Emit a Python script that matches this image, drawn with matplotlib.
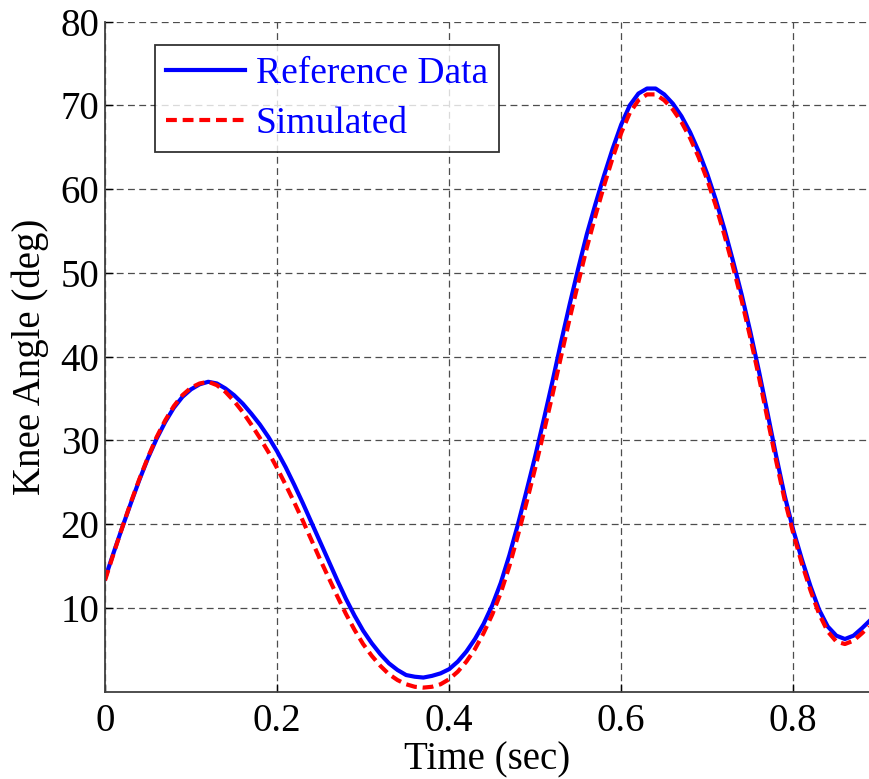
import matplotlib
matplotlib.use('Agg')
from matplotlib import pyplot as plt

# time axis (s)
time_sec = [0.00, 0.01, 0.02, 0.03, 0.04, 0.05, 0.06, 0.07, 0.08, 0.09,
            0.10, 0.11, 0.12, 0.13, 0.14, 0.15, 0.16, 0.17, 0.18, 0.19,
            0.20, 0.21, 0.22, 0.23, 0.24, 0.25, 0.26, 0.27, 0.28, 0.29,
            0.30, 0.31, 0.32, 0.33, 0.34, 0.35, 0.36, 0.37, 0.38, 0.39,
            0.40, 0.41, 0.42, 0.43, 0.44, 0.45, 0.46, 0.47, 0.48, 0.49,
            0.50, 0.51, 0.52, 0.53, 0.54, 0.55, 0.56, 0.57, 0.58, 0.59,
            0.60, 0.61, 0.62, 0.63, 0.64, 0.65, 0.66, 0.67, 0.68, 0.69,
            0.70, 0.71, 0.72, 0.73, 0.74, 0.75, 0.76, 0.77, 0.78, 0.79,
            0.80, 0.81, 0.82, 0.83, 0.84, 0.85, 0.86, 0.87, 0.88, 0.888]

reference_deg = [13.5, 16.6, 19.6, 22.5, 25.3, 27.9, 30.2, 32.2, 33.9, 35.2,
                 36.1, 36.7, 37.0, 36.8, 36.2, 35.4, 34.4, 33.2, 31.9, 30.4,
                 28.7, 26.8, 24.7, 22.5, 20.2, 17.9, 15.6, 13.3, 11.1, 9.1,
                 7.3, 5.8, 4.5, 3.4, 2.6, 2.0, 1.8, 1.7, 1.9, 2.2,
                 2.7, 3.6, 4.8, 6.3, 8.1, 10.3, 13.0, 16.3, 20.0, 24.0,
                 28.1, 32.5, 37.0, 41.7, 46.2, 50.5, 54.6, 58.2, 61.6, 64.8,
                 67.7, 70.0, 71.4, 72.0, 72.0, 71.3, 70.2, 68.7, 66.8, 64.5,
                 61.8, 58.7, 55.2, 51.4, 47.4, 43.0, 38.3, 33.3, 28.2, 23.4,
                 19.3, 15.8, 12.6, 9.8, 7.8, 6.7, 6.3, 6.7, 7.6, 8.4]

simulated_deg = [13.3, 16.5, 19.6, 22.6, 25.4, 28.0, 30.4, 32.4, 34.1, 35.4,
                 36.3, 36.8, 37.0, 36.6, 35.8, 34.7, 33.4, 31.9, 30.3, 28.6,
                 26.7, 24.7, 22.6, 20.4, 18.1, 15.8, 13.6, 11.4, 9.3, 7.4,
                 5.7, 4.3, 3.1, 2.1, 1.4, 0.9, 0.6, 0.5, 0.6, 0.9,
                 1.5, 2.4, 3.6, 5.1, 7.0, 9.2, 11.8, 15.0, 18.7, 22.6,
                 26.7, 31.0, 35.4, 40.0, 44.5, 48.8, 53.0, 56.8, 60.4, 63.7,
                 66.7, 69.1, 70.6, 71.3, 71.3, 70.6, 69.5, 68.0, 66.1, 63.8,
                 61.1, 58.0, 54.5, 50.7, 46.7, 42.3, 37.6, 32.6, 27.6, 22.9,
                 18.9, 15.3, 12.1, 9.3, 7.2, 6.0, 5.7, 6.1, 7.0, 7.8]

x_ticks = [0, 0.2, 0.4, 0.6, 0.8]
x_tick_labels = ['0', '0.2', '0.4', '0.6', '0.8']
y_ticks = [10, 20, 30, 40, 50, 60, 70, 80]

plt.rcParams['font.family'] = ['Liberation Serif', 'DejaVu Serif']

fig = plt.figure(figsize=(8.69, 7.79), dpi=100)
ax = fig.add_axes([105 / 869, 1 - 691.8 / 779, 1 - 105 / 869, (691.8 - 21.5) / 779])

ax.plot(time_sec, reference_deg, color='#0000ff', linewidth=3, label='Reference Data')
ax.plot(time_sec, simulated_deg, color='#ff0000', linewidth=3, dashes=(2.6, 1.4),
        label='Simulated')

ax.set_xlim(0, 0.888)
ax.set_ylim(0, 80)
ax.set_xticks(x_ticks)
ax.set_xticklabels(x_tick_labels)
ax.set_yticks(y_ticks)

ax.grid(True, color='0.3', linestyle=(0, (5.5, 3.5)), linewidth=0.9)
ax.set_axisbelow(True)
for side in ['top', 'right']:
    ax.spines[side].set_visible(False)
for side in ['left', 'bottom']:
    ax.spines[side].set_color('0.25')
    ax.spines[side].set_linewidth(1.3)

ax.tick_params(direction='in', length=6, width=1, colors='black', labelsize=28)
ax.tick_params(axis='x', pad=8)
ax.tick_params(axis='y', pad=4)

ax.set_xlabel('Time (sec)', fontsize=28, labelpad=1)
ax.set_ylabel('Knee Angle (deg)', fontsize=28, labelpad=8)

leg = ax.legend(loc='upper left', bbox_to_anchor=(0.065, 0.965), borderaxespad=0,
                fontsize=27, frameon=True, fancybox=False, handlelength=2.1,
                handletextpad=0.3, borderpad=0.3, labelspacing=0.42)
leg.get_frame().set_edgecolor('black')
leg.get_frame().set_linewidth(1.3)
for txt in leg.get_texts():
    txt.set_color('#0000ff')

fig.savefig('out.png', dpi=100)
